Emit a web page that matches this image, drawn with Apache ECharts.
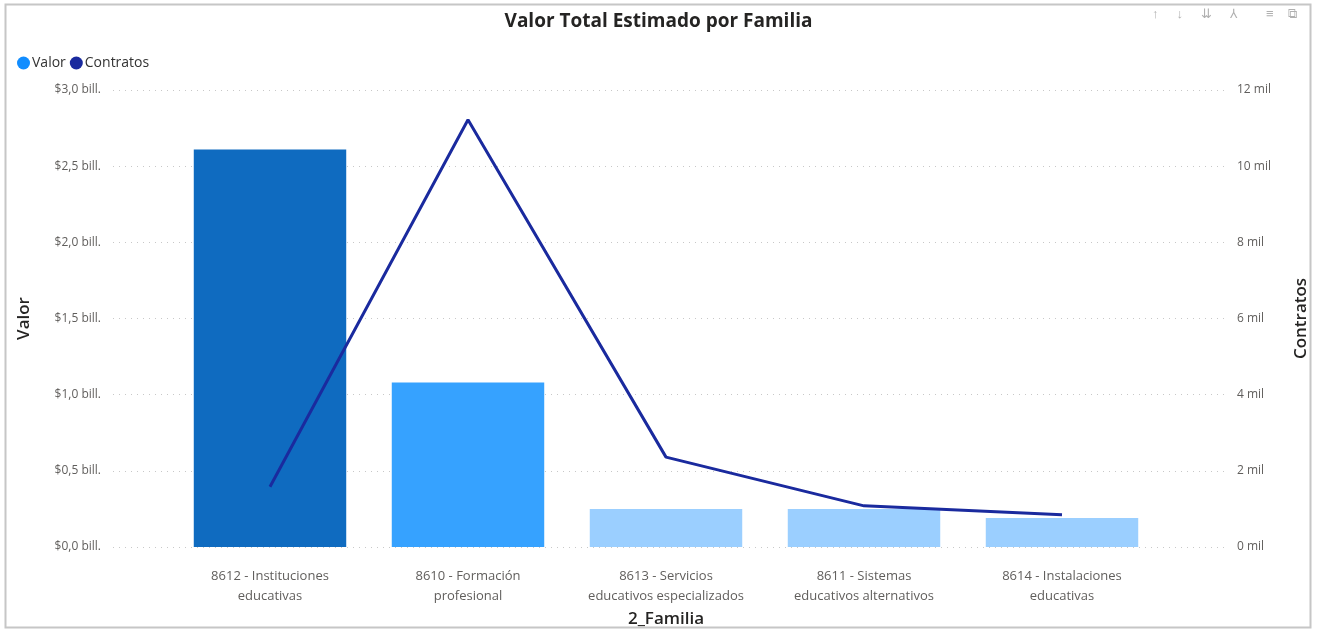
<!DOCTYPE html>
<html>
<head>
<meta charset="utf-8">
<script src="https://cdn.jsdelivr.net/npm/echarts@6/dist/echarts.min.js"></script>
<style>
  html, body { margin: 0; padding: 0; background: #fff; }
  #main { width: 1317px; height: 632px; }
</style>
</head>
<body>
<div id="main"></div>
<script>
var categories = [
  '8612 - Instituciones\neducativas',
  '8610 - Formación\nprofesional',
  '8613 - Servicios\neducativos especializados',
  '8611 - Sistemas\neducativos alternativos',
  '8614 - Instalaciones\neducativas'
];
var valor = [2.61e12, 1.08e12, 0.25e12, 0.25e12, 0.19e12];
var contratos = [1580, 11220, 2360, 1080, 850];
var barColors = ['#0F6BC0', '#36A2FF', '#9BCFFF', '#9BCFFF', '#9BCFFF'];

var font = "'Segoe UI', 'Open Sans', 'Noto Sans', sans-serif";
var chartDom = document.getElementById('main');
var myChart = echarts.init(chartDom);
var option;

option = {
  textStyle: { fontFamily: font },
  title: {
    text: 'Valor Total Estimado por Familia',
    left: 'center',
    top: 7,
    textStyle: { fontSize: 19, fontWeight: 'bold', color: '#252423', fontFamily: font }
  },
  legend: {
    left: 12,
    top: 51,
    icon: 'circle',
    itemWidth: 13,
    itemHeight: 13,
    itemGap: 4,
    textStyle: { fontSize: 14, color: '#333', padding: [0, 0, 0, -3] },
    data: ['Valor', 'Contratos']
  },
  graphic: [
    {
      type: 'rect',
      shape: { x: 5.5, y: 4.5, width: 1305, height: 623 },
      style: { fill: 'none', stroke: '#c6c6c6', lineWidth: 2 },
      silent: true
    },
    {
      type: 'text',
      right: 20,
      top: 8,
      style: { text: '↑     ↓     ⇊     ⅄        ≡    ⧉', fill: '#b0b0b0', fontSize: 13 }
    }
  ],
  grid: [
    { left: 113, right: 92, top: 90, bottom: 85, outerBoundsMode: 'none' },
    { left: 171, right: 156, top: 90, bottom: 85, outerBoundsMode: 'none' }
  ],
  xAxis: [
    { type: 'category', gridIndex: 0, data: categories, show: false },
    {
      type: 'category',
      gridIndex: 1,
      data: categories,
      axisLine: { show: false },
      axisTick: { show: false },
      axisLabel: { color: '#605E5C', fontSize: 13, lineHeight: 20, margin: 19, interval: 0 },
      name: '2_Familia',
      nameLocation: 'middle',
      nameGap: 63,
      nameTextStyle: { fontSize: 17, fontWeight: 600, color: '#252423' }
    }
  ],
  yAxis: [
    {
      type: 'value',
      gridIndex: 0,
      min: 0,
      max: 3e12,
      interval: 0.5e12,
      name: 'Valor',
      nameLocation: 'middle',
      nameGap: 80,
      nameTextStyle: { fontSize: 17, fontWeight: 600, color: '#252423' },
      axisLabel: {
        color: '#605E5C',
        fontSize: 12,
        margin: 12,
        formatter: function (v) { return '$' + (v / 1e12).toFixed(1).replace('.', ',') + ' bill.'; }
      },
      splitLine: { lineStyle: { type: [1, 5], color: '#c8c8c8', width: 1 } }
    },
    {
      type: 'value',
      gridIndex: 0,
      position: 'right',
      min: 0,
      max: 12000,
      interval: 2000,
      name: 'Contratos',
      nameLocation: 'middle',
      nameGap: 68,
      nameRotate: 90,
      nameTextStyle: { fontSize: 17, fontWeight: 600, color: '#252423' },
      axisLabel: {
        color: '#605E5C',
        fontSize: 12,
        margin: 12,
        formatter: function (v) { return (v / 1000) + ' mil'; }
      },
      splitLine: { show: false }
    },
    { type: 'value', gridIndex: 1, min: 0, max: 3e12, show: false },
    { type: 'value', gridIndex: 1, min: 0, max: 12000, show: false }
  ],
  series: [
    {
      name: 'Valor',
      type: 'bar',
      xAxisIndex: 1,
      yAxisIndex: 2,
      barCategoryGap: '23%',
      itemStyle: { color: '#118DFF' },
      data: valor.map(function (v, i) {
        return { value: v, itemStyle: { color: barColors[i] } };
      })
    },
    {
      name: 'Contratos',
      type: 'line',
      xAxisIndex: 1,
      yAxisIndex: 3,
      symbol: 'none',
      itemStyle: { color: '#1A2A9E' },
      lineStyle: { color: '#1A2A9E', width: 3 },
      data: contratos
    }
  ]
};

option && myChart.setOption(option);
</script>
</body>
</html>
